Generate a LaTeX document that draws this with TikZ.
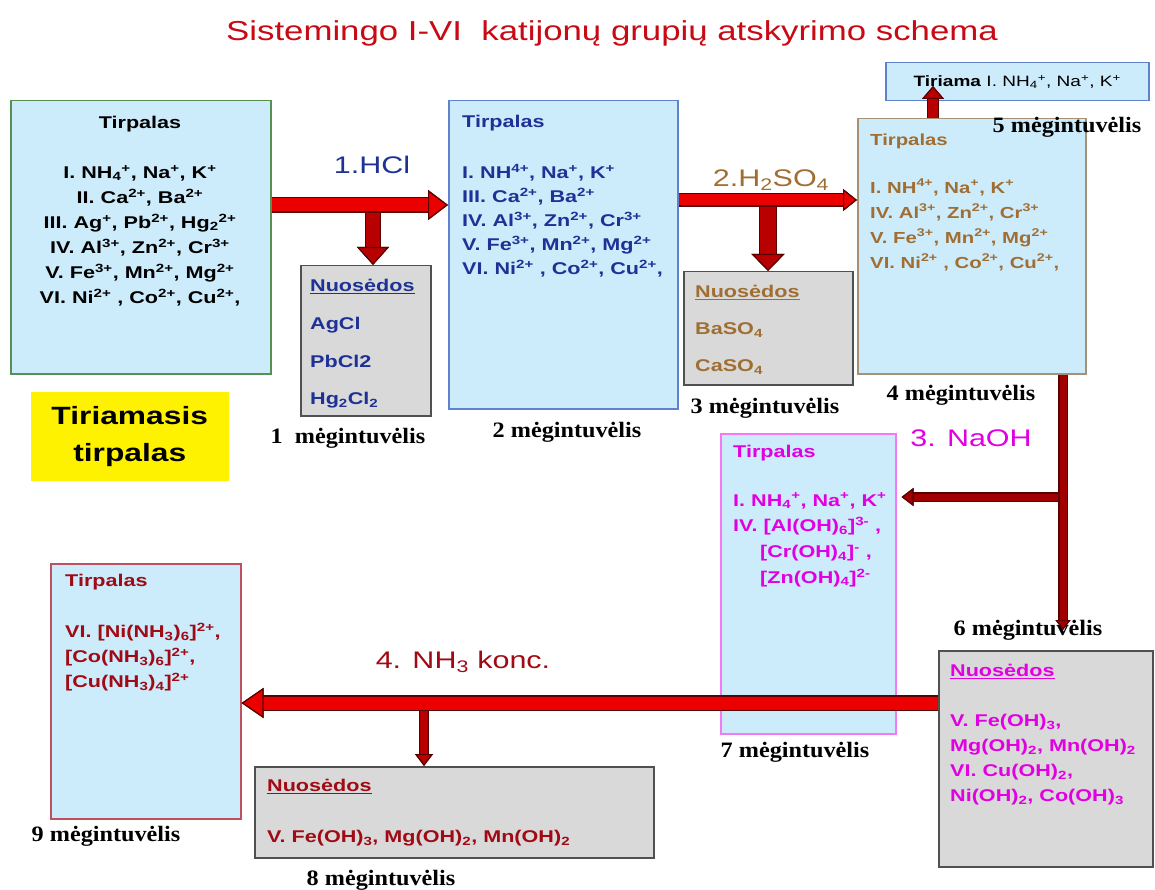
\documentclass[tikz,border=0pt]{standalone}
\usepackage{fontspec}
\setmainfont{Liberation Sans}[FakeStretch=1.27]
\newfontfamily\tubefont{Liberation Serif}[FakeStretch=1.1]
\usetikzlibrary{arrows.meta}

\definecolor{titlered}{RGB}{200,10,20}
\definecolor{tubeblue}{RGB}{204,236,252}
\definecolor{frgreen}{RGB}{85,145,85}
\definecolor{frblue}{RGB}{95,130,205}
\definecolor{frbrown}{RGB}{165,145,120}
\definecolor{frpink}{RGB}{245,120,245}
\definecolor{frrose}{RGB}{190,80,95}
\definecolor{sedgray}{RGB}{217,217,217}
\definecolor{sedframe}{RGB}{80,80,80}
\definecolor{txblue}{RGB}{30,50,150}
\definecolor{txbrown}{RGB}{160,110,50}
\definecolor{txpink}{RGB}{225,0,225}
\definecolor{txred}{RGB}{160,10,20}
\definecolor{arrred}{RGB}{235,0,0}
\definecolor{arrdark}{RGB}{185,0,0}
\definecolor{arrdeep}{RGB}{160,0,0}
\definecolor{arrline}{RGB}{90,0,0}

% ion charges and indices
\newcommand{\chup}[1]{\textsuperscript{#1}}
\newcommand{\chdn}[1]{\textsubscript{#1}}

\tikzset{
  tube/.style={draw, line width=1.5pt, fill=tubeblue, anchor=north west, inner sep=0pt},
  sediment/.style={tube, draw=sedframe, fill=sedgray},
  conts/.style={anchor=west, align=left, inner sep=0pt, font=\bfseries\fontsize{17}{25}\selectfont},
  tubelabel/.style={font=\tubefont\bfseries\fontsize{22}{26}\selectfont},
  reagent/.style={font=\fontsize{24}{28}\selectfont},
  flow/.style n args={4}{line width=#1pt, draw=#4,
    -{Triangle[length=#2pt, width=#3pt, color=arrline, fill=#4, line width=1.2pt]},
    preaction={draw=arrline, line width=#1pt+2.4pt,
      -{Triangle[length=#2pt, width=#3pt, color=arrline, fill=#4, line width=1.2pt]}}},
}

\begin{document}
\begin{tikzpicture}[x=1pt,y=-1pt]
  \useasboundingbox (0,0) rectangle (1155,890);

  \node[font=\fontsize{27.4}{32}\selectfont, text=titlered] (title) at (612,33)
    {Sistemingo I-VI\ \ katijonų grupių atskyrimo schema};

  % test tubes
  \node[tube, draw=frgreen, minimum width=260pt, minimum height=273pt] (B1) at (10,100) {};
  \node[tube, draw=frblue, minimum width=229pt, minimum height=308pt] (B2) at (448,100) {};
  \node[tube, draw=frbrown, minimum width=228pt, minimum height=255pt] (B4) at (857,118) {};
  \node[tube, draw=frblue, minimum width=263pt, minimum height=38pt,
    font=\fontsize{15}{18}\selectfont] (B5) at (885,62)
    {\textbf{Tiriama} I. NH\chdn{4}\chup{+}, Na\chup{+}, K\chup{+}};
  \node[tube, draw=frpink, minimum width=175pt, minimum height=300pt] (B7) at (720,433) {};
  \node[tube, draw=frrose, minimum width=190pt, minimum height=255pt] (B9) at (50,563) {};
  \node[sediment, minimum width=130pt, minimum height=150pt] (N1) at (300,265) {};
  \node[sediment, minimum width=169pt, minimum height=113pt] (N3) at (683,271) {};
  \node[sediment, minimum width=214pt, minimum height=216pt] (B6) at (938,650) {};
  \node[sediment, minimum width=399pt, minimum height=91pt] (N8) at (254,766) {};
  \node[tube, draw=none, fill=yellow, minimum width=198pt, minimum height=89pt,
    align=center, font=\bfseries\fontsize{25}{37}\selectfont] (start) at (30,391)
    {Tiriamasis\\tirpalas};

  % contents
  \node[conts, anchor=center, align=center] (B1c) at (140,211)
    {Tirpalas\\[25pt]
     I. NH\chdn{4}\chup{+}, Na\chup{+}, K\chup{+}\\
     II. Ca\chup{2+}, Ba\chup{2+}\\
     III. Ag\chup{+}, Pb\chup{2+}, Hg\chdn{2}\chup{2+}\\
     IV. Al\chup{3+}, Zn\chup{2+}, Cr\chup{3+}\\
     V. Fe\chup{3+}, Mn\chup{2+}, Mg\chup{2+}\\
     VI. Ni\chup{2+} , Co\chup{2+}, Cu\chup{2+},};
  \node[conts, text=txblue, font=\bfseries\fontsize{17}{24}\selectfont] (B2c) at (462,196)
    {Tirpalas\\[27pt]
     I. NH\chup{4+}, Na\chup{+}, K\chup{+}\\
     III. Ca\chup{2+}, Ba\chup{2+}\\
     IV. Al\chup{3+}, Zn\chup{2+}, Cr\chup{3+}\\
     V. Fe\chup{3+}, Mn\chup{2+}, Mg\chup{2+}\\
     VI. Ni\chup{2+} , Co\chup{2+}, Cu\chup{2+},};
  \node[conts, text=txblue, font=\bfseries\fontsize{17}{37.7}\selectfont] (N1c) at (310,344)
    {\underline{Nuosėdos}\\ AgCl\\ PbCl2\\ Hg\chdn{2}Cl\chdn{2}};
  \node[conts, text=txbrown, font=\bfseries\fontsize{17}{37}\selectfont] (N3c) at (695,330)
    {\underline{Nuosėdos}\\ BaSO\chdn{4}\\ CaSO\chdn{4}};
  \node[conts, text=txbrown, font=\bfseries\fontsize{16}{25}\selectfont] (B4c) at (870,202)
    {Tirpalas\\[23pt]
     I. NH\chup{4+}, Na\chup{+}, K\chup{+}\\
     IV. Al\chup{3+}, Zn\chup{2+}, Cr\chup{3+}\\
     V. Fe\chup{3+}, Mn\chup{2+}, Mg\chup{2+}\\
     VI. Ni\chup{2+} , Co\chup{2+}, Cu\chup{2+},};
  \node[conts, text=txpink, font=\bfseries\fontsize{17}{25.7}\selectfont] (B7c) at (733,516)
    {Tirpalas\\[23pt]
     I. NH\chdn{4}\chup{+}, Na\chup{+}, K\chup{+}\\
     IV. [Al(OH)\chdn{6}]\chup{3-} ,\\
     \hspace*{27pt}[Cr(OH)\chdn{4}]\chup{-} ,\\
     \hspace*{27pt}[Zn(OH)\chdn{4}]\chup{2-}};
  \node[conts, text=txpink] (B6c) at (950,735)
    {\underline{Nuosėdos}\\[25pt]
     V. Fe(OH)\chdn{3},\\
     Mg(OH)\chdn{2}, Mn(OH)\chdn{2}\\
     VI. Cu(OH)\chdn{2},\\
     Ni(OH)\chdn{2}, Co(OH)\chdn{3}};
  \node[conts, text=txred] (B9c) at (65,633)
    {Tirpalas\\[26pt]
     VI. [Ni(NH\chdn{3})\chdn{6}]\chup{2+},\\
     {[}Co(NH\chdn{3})\chdn{6}]\chup{2+},\\
     {[}Cu(NH\chdn{3})\chdn{4}]\chup{2+}};
  \node[conts, text=txred] (N8c) at (267,813)
    {\underline{Nuosėdos}\\[26pt]
     V. Fe(OH)\chdn{3}, Mg(OH)\chdn{2}, Mn(OH)\chdn{2}};

  % tube numbers
  \node[tubelabel] (lab1) at (348,438) {1\ \ mėgintuvėlis};
  \node[tubelabel] (lab2) at (567,432) {2 mėgintuvėlis};
  \node[tubelabel] (lab3) at (765,408) {3 mėgintuvėlis};
  \node[tubelabel] (lab4) at (961,395) {4 mėgintuvėlis};
  \node[tubelabel] (lab5) at (1067,127) {5 mėgintuvėlis};
  \node[tubelabel] (lab6) at (1028,630) {6 mėgintuvėlis};
  \node[tubelabel] (lab7) at (795,752) {7 mėgintuvėlis};
  \node[tubelabel] (lab8) at (381,880) {8 mėgintuvėlis};
  \node[tubelabel] (lab9) at (106,836) {9 mėgintuvėlis};

  % reagents
  \node[reagent, text=txblue] (hcl) at (372,165) {1.HCl};
  \node[reagent, text=txbrown] (acid) at (771,180) {2.H\chdn{2}SO\chdn{4}};
  \node[reagent, text=txpink] (base) at (971,438) {3. NaOH};
  \node[reagent, text=txred] (ammonia) at (463,662) {4. NH\chdn{3} konc.};

  % arrow rows and columns
  \coordinate (r1) at (0,205);
  \coordinate (r2) at (0,200);
  \coordinate (r3) at (0,497);
  \coordinate (r4) at (0,703);
  \coordinate (d1) at (373,0);
  \coordinate (d2) at (768,0);
  \coordinate (d4) at (424,0);
  \coordinate (v3) at (1063,0);
  \coordinate (u5) at (933,86);

  \draw[flow={14}{18}{32}{arrdark}] (d1 |- r1) -- (d1 |- N1.north);
  \draw[flow={13}{20}{30}{arrred}] (B1.east |- r1) -- (B2.west |- r1);
  \draw[flow={16}{17}{33}{arrdark}] (d2 |- r2) -- (d2 |- N3.north);
  \draw[flow={11}{14}{22}{arrred}] (B2.east |- r2) -- (B4.west |- r2);
  \draw[flow={10}{13}{22}{arrdark}] (u5 |- B4.north) -- (u5);
  \draw[flow={7}{12}{18}{arrdeep}, shorten >=5pt] (v3 |- r3) -- (B7.east |- r3);
  \draw[flow={7}{10}{15}{arrdeep}] (v3 |- B4.south) -- (v3 |- lab6);
  \draw[flow={8}{12}{18}{arrdark}] (d4 |- r4) -- (d4 |- N8.north);
  \draw[flow={13}{22}{30}{arrred}] (B6.west |- r4) -- (B9.east |- r4);
\end{tikzpicture}
\end{document}
